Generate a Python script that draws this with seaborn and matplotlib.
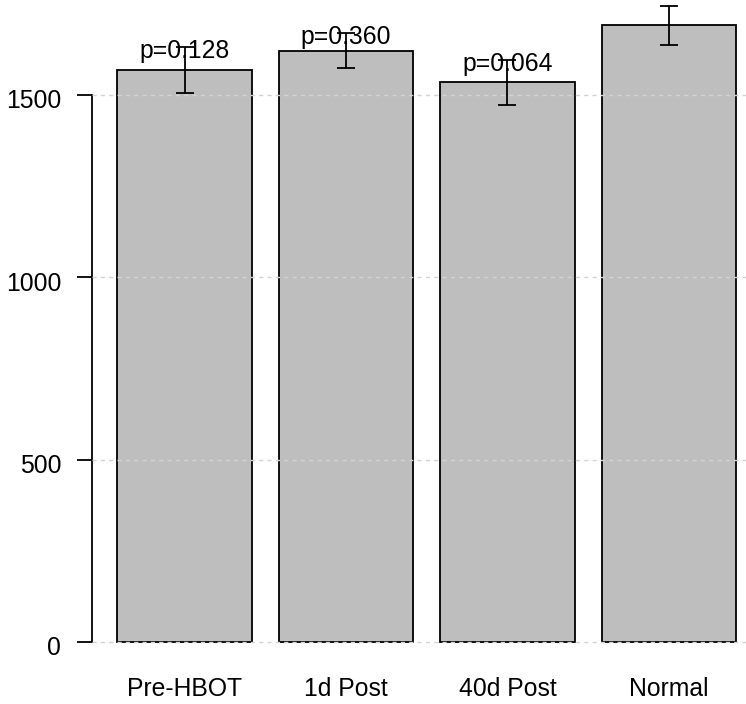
import matplotlib
matplotlib.use("Agg")
import matplotlib.pyplot as plt
import matplotlib.transforms as mtransforms
import seaborn as sns
import pandas as pd

categories = ["Pre-HBOT", "1d Post", "40d Post", "Normal"]
means = [1568, 1621, 1534, 1691]
errors = [62, 48, 62, 53]
p_labels = ["p=0.128", "p=0.360", "p=0.064", ""]
y_ticks = [0, 500, 1000, 1500]

sns.set_style("white")
plt.rcParams["font.family"] = ["Liberation Sans", "DejaVu Sans"]

df = pd.DataFrame({"group": categories, "value": means})

fig = plt.figure(figsize=(7.46, 7.04), dpi=100)
ax = fig.add_axes([92 / 746, 44 / 704, (746 - 92) / 746, 660 / 704])

sns.barplot(data=df, x="group", y="value", order=categories, color="#BEBEBE",
            saturation=1, edgecolor="black", linewidth=1.3, width=0.833,
            errorbar=None, ax=ax, zorder=2)

for t in y_ticks:
    ax.axhline(t, color="#D3D3D3", lw=1.0, linestyle=(0, (3, 3)), zorder=3)

xs = list(range(len(categories)))
ax.errorbar(xs, means, yerr=errors, fmt="none", ecolor="black",
            elinewidth=1.3, capsize=6.5, capthick=1.3, zorder=4)

for x, m, e, lab in zip(xs, means, errors, p_labels):
    if lab:
        ax.annotate(lab, xy=(x, m + e), xytext=(0, -4), textcoords="offset pixels",
                    ha="center", va="center", fontsize=17.8, color="black", zorder=5)

ax.set_xlim(-0.573, 3.477)
ax.set_ylim(-49.4, 1760)
ax.set_yticks(y_ticks)
ax.set_yticklabels([str(t) for t in y_ticks], fontsize=17.8)
ax.set_xticks(xs)
ax.set_xticklabels(categories, fontsize=17.8)
ax.set_xlabel("")
ax.set_ylabel("")

for s in ["top", "right", "bottom"]:
    ax.spines[s].set_visible(False)
ax.spines["left"].set_bounds(0, 1500)
ax.spines["left"].set_linewidth(1.3)
ax.spines["left"].set_color("black")
ax.tick_params(axis="y", length=10.8, width=1.3, pad=11.5, colors="black", left=True)
ax.tick_params(axis="x", length=0, pad=12.5, colors="black")

shift = mtransforms.ScaledTranslation(0, -4 / 100, fig.dpi_scale_trans)
for lbl in ax.get_yticklabels():
    lbl.set_transform(lbl.get_transform() + shift)

fig.savefig("out.png", dpi=100, facecolor="white")
